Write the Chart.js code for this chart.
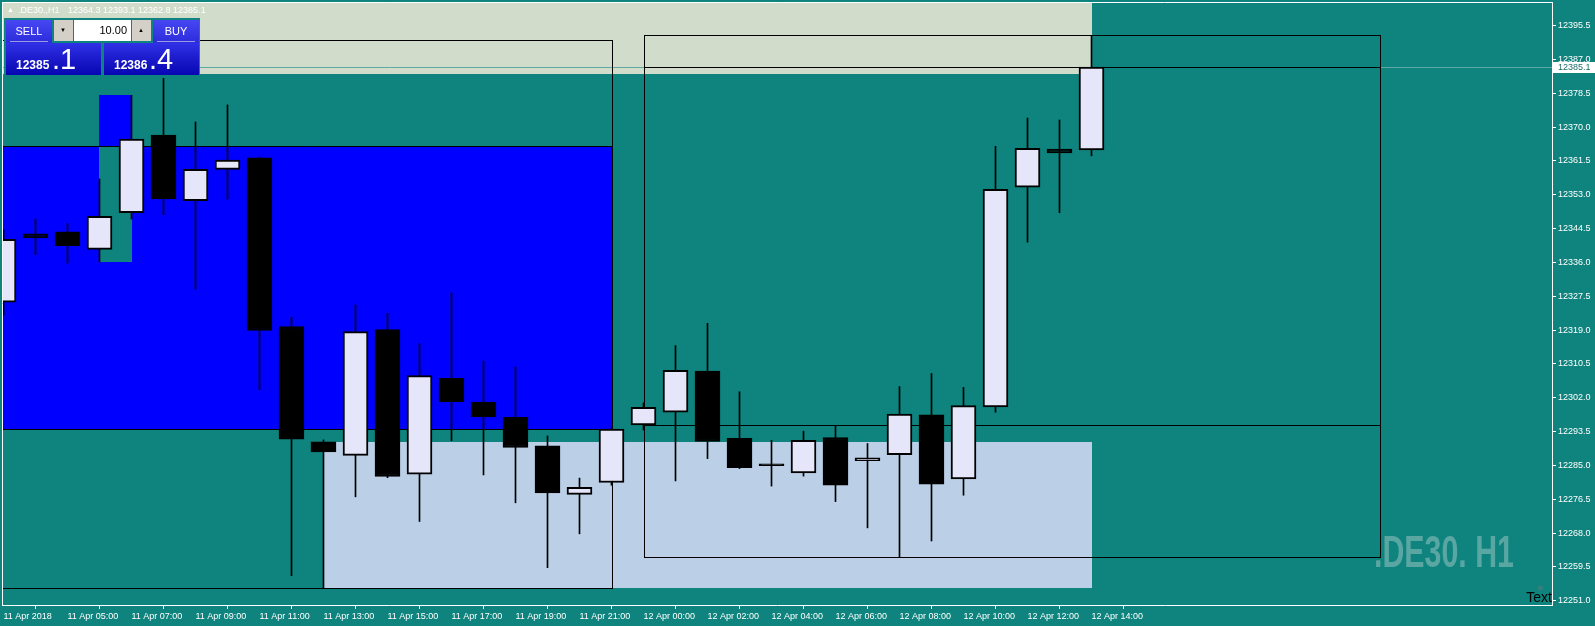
<!DOCTYPE html>
<html>
<head>
<meta charset="utf-8">
<script src="https://cdn.jsdelivr.net/npm/chart.js@4.4.1/dist/chart.umd.min.js"></script>
<style>
html, body { margin: 0; padding: 0; background: #0f837d; overflow: hidden; }
#wrap { position: relative; width: 1595px; height: 626px; }
#chart { position: absolute; left: 0; top: 0; }
.abs { position: absolute; font-family: "Liberation Sans", Arial, sans-serif; line-height: 1; white-space: pre; }
.hdr { font-size: 9px; color: #fff; top: 6px; }
.btn { color: #fff; font-size: 11px; text-align: center; background: linear-gradient(#4646f2, #2c2cdc); }
.price { background: linear-gradient(#3030e6, #0606b2); }
.uline { height: 1px; background: #9a9ae8; }
.spin { background: #d4d0c8; }
</style>
</head>
<body>
<div id="wrap">
  <canvas id="chart" width="1595" height="626"></canvas>

  <div class="abs hdr" style="left:7px;font-size:7px;top:6px">&#9650;</div>
  <div class="abs hdr" style="left:18px">.DE30.,H1</div>
  <div class="abs hdr" style="left:68px">12364.3 12393.1 12362.8 12385.1</div>

  <div class="abs" style="left:4px;top:18px;width:196px;height:58px;background:#0f837d"></div>
  <div class="abs btn" style="left:6px;top:20px;width:46px;height:23px;line-height:22px">SELL</div>
  <div class="abs uline" style="left:10px;top:41px;width:38px"></div>
  <div class="abs price" style="left:6px;top:43px;width:95px;height:32px"></div>
  <div class="abs" style="left:16px;top:59px;font-size:12px;font-weight:bold;color:#fff">12385</div>
  <div class="abs" style="left:52px;top:45px;font-size:29px;color:#fff">.1</div>

  <div class="abs spin" style="left:54px;top:20px;width:19px;height:21px"></div>
  <div class="abs" style="left:60px;top:27px;font-size:6px;color:#000">&#9660;</div>
  <div class="abs" style="left:74px;top:20px;width:57px;height:21px;background:#fff"></div>
  <div class="abs" style="left:74px;top:25px;width:53px;font-size:11px;color:#000;text-align:right">10.00</div>
  <div class="abs spin" style="left:132px;top:20px;width:19px;height:21px"></div>
  <div class="abs" style="left:138px;top:27px;font-size:6px;color:#000">&#9650;</div>

  <div class="abs btn" style="left:153px;top:20px;width:46px;height:23px;line-height:22px">BUY</div>
  <div class="abs uline" style="left:157px;top:41px;width:38px"></div>
  <div class="abs price" style="left:104px;top:43px;width:95px;height:32px"></div>
  <div class="abs" style="left:114px;top:59px;font-size:12px;font-weight:bold;color:#fff">12386</div>
  <div class="abs" style="left:149px;top:45px;font-size:29px;color:#fff">.4</div>
</div>

<script>
// hourly bars, DE30 H1
const times = [
  "11 Apr 03:00", "11 Apr 04:00", "11 Apr 05:00", "11 Apr 06:00", "11 Apr 07:00",
  "11 Apr 08:00", "11 Apr 09:00", "11 Apr 10:00", "11 Apr 11:00", "11 Apr 12:00",
  "11 Apr 13:00", "11 Apr 14:00", "11 Apr 15:00", "11 Apr 16:00", "11 Apr 17:00",
  "11 Apr 18:00", "11 Apr 19:00", "11 Apr 20:00", "11 Apr 21:00", "11 Apr 22:00",
  "12 Apr 00:00", "12 Apr 01:00", "12 Apr 02:00", "12 Apr 03:00", "12 Apr 04:00",
  "12 Apr 05:00", "12 Apr 06:00", "12 Apr 07:00", "12 Apr 08:00", "12 Apr 09:00",
  "12 Apr 10:00", "12 Apr 11:00", "12 Apr 12:00", "12 Apr 13:00", "12 Apr 14:00"
];
const opens = [
  12326.0, 12343.2, 12343.7, 12339.3, 12348.5, 12368.0, 12351.5, 12359.4, 12362.3, 12319.9,
  12290.9, 12287.5, 12319.1, 12282.8, 12306.9, 12300.9, 12297.1, 12289.9, 12277.7, 12280.7,
  12295.2, 12298.4, 12308.7, 12291.8, 12285.4, 12283.1, 12292.0, 12286.2, 12287.7, 12297.7,
  12281.6, 12299.7, 12354.9, 12364.5, 12364.3
];
const highs = [
  12344.2, 12346.9, 12345.8, 12357.0, 12378.0, 12382.3, 12371.3, 12375.6, 12362.5, 12322.2,
  12291.4, 12325.3, 12323.2, 12315.6, 12328.3, 12311.2, 12309.7, 12292.4, 12281.8, 12294.3,
  12300.7, 12315.1, 12320.7, 12303.5, 12291.3, 12293.6, 12294.9, 12290.5, 12304.8, 12308.1,
  12304.6, 12365.2, 12372.3, 12371.8, 12393.1
];
const lows = [
  12322.8, 12338.0, 12335.8, 12336.1, 12346.9, 12348.0, 12329.3, 12351.9, 12304.0, 12257.3,
  12254.2, 12277.1, 12281.9, 12270.9, 12291.2, 12282.6, 12275.6, 12259.3, 12267.8, 12280.0,
  12293.9, 12281.1, 12286.7, 12284.2, 12279.8, 12282.3, 12275.9, 12269.3, 12261.9, 12266.0,
  12277.5, 12298.4, 12341.1, 12348.5, 12362.8
];
const closes = [
  12341.8, 12342.2, 12340.2, 12347.6, 12367.0, 12352.0, 12359.4, 12361.7, 12318.9, 12291.6,
  12288.4, 12318.6, 12282.2, 12307.6, 12301.0, 12297.2, 12289.5, 12278.1, 12279.5, 12294.1,
  12299.6, 12308.9, 12291.0, 12284.4, 12284.9, 12291.3, 12280.0, 12286.9, 12297.9, 12280.3,
  12300.0, 12354.4, 12364.7, 12363.5, 12385.1
];
// labels shown under every second bar
const tickLabels = [
  "11 Apr 2018", "11 Apr 05:00", "11 Apr 07:00", "11 Apr 09:00", "11 Apr 11:00", "11 Apr 13:00",
  "11 Apr 15:00", "11 Apr 17:00", "11 Apr 19:00", "11 Apr 21:00", "12 Apr 00:00", "12 Apr 02:00",
  "12 Apr 04:00", "12 Apr 06:00", "12 Apr 08:00", "12 Apr 10:00", "12 Apr 12:00", "12 Apr 14:00"
];
const priceTicks = [
  12251.0, 12259.5, 12268.0, 12276.5, 12285.0, 12293.5, 12302.0, 12310.5, 12319.0,
  12327.5, 12336.0, 12344.5, 12353.0, 12361.5, 12370.0, 12378.5, 12387.0, 12395.5
];
const bid = 12385.1;

// drawn objects: [fromBar, toBar, lowPrice, highPrice]
const supplyZone = [-3, 34, 12383.4, 12420];
const blueZone = [-3, 19, 12294.1, 12365.3];
const blueColumn = [3, 4, 12336.0, 12378.0];
const demandZone = [10, 34, 12254.2, 12291.0];
const frames = [
  [-3, 19, 12254.1, 12392.0],
  [20, 43, 12261.9, 12393.1],
  [20, 43, 12295.2, 12385.1]
];

const TEAL = '#0f837d';
const font = '"Liberation Sans", Arial, sans-serif';

const wickData = times.map((t, i) => ({ x: i, y: [lows[i], highs[i]] }));
const bodyData = times.map((t, i) => ({ x: i, y: [opens[i], closes[i]] }));
const bodyColors = times.map((t, i) => closes[i] >= opens[i] ? '#e6e6fa' : '#000000');

const objects = {
  id: 'objects',
  beforeDatasetsDraw(chart) {
    const { ctx, chartArea: a, scales: { x, y } } = chart;
    const px = v => Math.round(x.getPixelForValue(v));
    const py = v => Math.round(y.getPixelForValue(v));
    const fill = (z, c) => {
      ctx.fillStyle = c;
      ctx.fillRect(px(z[0]), py(z[3]), px(z[1]) - px(z[0]), py(z[2]) - py(z[3]));
    };
    const hline = (x0, x1, yy) => {
      ctx.beginPath(); ctx.moveTo(x0, yy + 0.5); ctx.lineTo(x1, yy + 0.5); ctx.stroke();
    };
    ctx.save();
    ctx.beginPath();
    ctx.rect(a.left, a.top, a.right - a.left, a.bottom - a.top);
    ctx.clip();

    fill(supplyZone, '#d1dccb');
    fill(blueZone, '#0000ff');
    fill([blueColumn[0], blueColumn[1], blueZone[3], blueColumn[3]], '#0000ff');
    fill([blueColumn[0], blueColumn[1], blueColumn[2], blueZone[3]], TEAL);
    ctx.strokeStyle = '#000'; ctx.lineWidth = 1;
    hline(px(blueZone[0]), px(blueZone[1]), py(blueZone[3]));
    hline(px(blueZone[0]), px(blueZone[1]), py(blueZone[2]));
    fill(demandZone, '#bbcfe6');

    // watermark
    ctx.save();
    ctx.font = 'bold 44px ' + font;
    const w = ctx.measureText('.DE30. H1').width;
    ctx.translate(1374, 567);
    ctx.scale(140 / w, 1);
    ctx.fillStyle = '#5aa6a3';
    ctx.fillText('.DE30. H1', 0, 0);
    ctx.restore();

    // bid line
    ctx.strokeStyle = '#5fa9a5';
    hline(a.left, a.right, py(bid));

    ctx.strokeStyle = '#000';
    frames.forEach(f => {
      ctx.strokeRect(px(f[0]) + 0.5, py(f[3]) + 0.5, px(f[1]) - px(f[0]), py(f[2]) - py(f[3]));
    });
    ctx.restore();
  },
  afterDraw(chart) {
    const { ctx, chartArea: a, scales: { y } } = chart;
    ctx.save();
    ctx.strokeStyle = '#fff'; ctx.lineWidth = 1;
    ctx.beginPath();
    ctx.moveTo(a.left + 0.5, a.bottom); ctx.lineTo(a.left + 0.5, a.top + 0.5); ctx.lineTo(a.right, a.top + 0.5);
    ctx.stroke();

    const by = Math.round(y.getPixelForValue(bid));
    ctx.fillStyle = '#fff';
    ctx.fillRect(a.right + 1, by - 5, 50, 11);
    ctx.fillStyle = '#1b6d69';
    ctx.font = '9px ' + font;
    ctx.textBaseline = 'middle';
    ctx.fillText(bid.toFixed(1), a.right + 6, by + 0.5);

    ctx.fillStyle = '#000';
    ctx.font = '14px ' + font;
    ctx.textAlign = 'right';
    ctx.textBaseline = 'alphabetic';
    ctx.fillText('Text', a.right, 602);
    ctx.fillStyle = '#6a7a78';
    ctx.font = '8px "DejaVu Sans"';
    ctx.fillText('\u2620', a.right - 8, 590);
    ctx.restore();
  }
};

const noPad = s => { s.paddingTop = 0; s.paddingBottom = 0; s.paddingLeft = 0; s.paddingRight = 0; };

const ctx = document.getElementById('chart').getContext('2d');
const chart = new Chart(ctx, {
  type: 'bar',
  data: {
    datasets: [
      { label: 'wick', data: wickData, backgroundColor: '#000', borderWidth: 0,
        barThickness: 1, grouped: false, order: 2 },
      { label: 'body', data: bodyData, backgroundColor: bodyColors, borderColor: '#000',
        borderWidth: 2, borderSkipped: false, barThickness: 25, grouped: false, order: 1 }
    ]
  },
  options: {
    responsive: false,
    animation: false,
    layout: { padding: { left: 2, top: 2, right: 0, bottom: 0 } },
    plugins: { legend: { display: false }, tooltip: { enabled: false } },
    scales: {
      x: {
        type: 'linear',
        offset: false,
        min: -0.046875,
        max: 48.390625,
        afterBuildTicks: s => { s.ticks = tickLabels.map((t, i) => ({ value: i * 2 })); },
        afterFit: s => { s.height = 21; noPad(s); },
        grid: { drawOnChartArea: false, drawTicks: true, tickLength: 4, color: '#fff' },
        border: { display: true, color: '#fff' },
        ticks: {
          autoSkip: false, maxRotation: 0, align: 'start', padding: 2,
          color: '#fff', font: { family: font, size: 9 },
          callback: (v, i) => tickLabels[i]
        }
      },
      y: {
        position: 'right',
        min: 12249.91,
        max: 12401.46,
        afterBuildTicks: s => { s.ticks = priceTicks.map(v => ({ value: v })); },
        afterFit: s => { s.width = 43; noPad(s); },
        grid: { drawOnChartArea: false, drawTicks: true, tickLength: 4, color: '#fff' },
        border: { display: true, color: '#fff' },
        ticks: {
          padding: 2, color: '#fff', font: { family: font, size: 9 },
          callback: v => Number(v).toFixed(1)
        }
      }
    }
  },
  plugins: [objects]
});
</script>
</body>
</html>
